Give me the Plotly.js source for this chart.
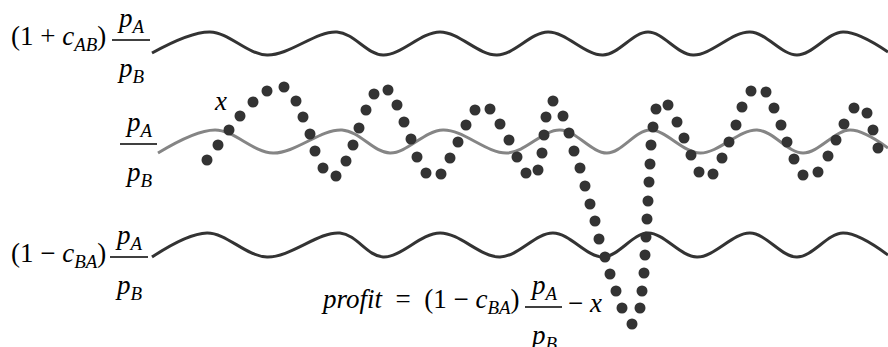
<!DOCTYPE html>
<html>
<head>
<meta charset="utf-8">
<script src="https://cdn.plot.ly/plotly-3.0.1.min.js"></script>
<style>
  html, body { margin: 0; padding: 0; background: #fff; }
  #chart { width: 888px; height: 347px; }
</style>
</head>
<body>
<div id="chart"></div>
<script>
// upper bound (1 + c_AB) pA/pB
var upperX = [152, 210, 267, 337, 383, 440, 497, 548, 603, 648, 693, 750, 797, 843, 888];
var upperY = [53, 32, 55, 32, 55, 32, 55, 32, 55, 32, 55, 32, 55, 32, 52];

// price ratio pA/pB
var ratioX = [158, 215, 273, 342, 390, 443, 507, 560, 607, 650, 700, 757, 803, 850, 888];
var ratioY = [153, 130, 153, 130, 153, 130, 153, 130, 153, 130, 153, 130, 153, 130, 148];

// lower bound (1 - c_BA) pA/pB
var lowerX = [152, 207, 267, 340, 383, 440, 500, 553, 603, 648, 697, 750, 797, 843, 888];
var lowerY = [257, 233, 257, 233, 257, 233, 257, 233, 257, 233, 257, 233, 257, 233, 255];

// observed x
var obsX = [207, 218, 229, 240, 253, 267, 284, 296, 303, 310, 315, 323, 336, 346, 353,
  359, 366, 374, 388, 397, 404, 411, 417, 426, 441, 450, 458, 466, 475, 490,
  500, 509, 517, 526, 538, 542, 544, 546, 553, 563, 569, 574, 580, 585, 590,
  595, 599, 605, 610, 616, 622, 632, 640, 642, 644, 645, 646, 647, 648, 649,
  650, 651, 653, 656, 668, 677, 684, 691, 699, 713, 722, 729, 736, 742, 751,
  766, 774, 781, 787, 794, 803, 818, 828, 836, 844, 854, 867, 873, 878];
var obsY = [160, 145, 130, 116, 102, 91, 87, 101, 117, 134, 151, 168, 176, 161, 145,
  128, 110, 94, 90, 105, 122, 139, 157, 173, 174, 158, 142, 125, 110, 109,
  124, 140, 157, 173, 170, 153, 135, 117, 101, 116, 133, 151, 168, 186, 204,
  221, 239, 257, 274, 291, 308, 324, 308, 291, 273, 255, 237, 219, 201, 182,
  164, 145, 127, 109, 105, 122, 138, 155, 172, 174, 158, 142, 125, 107, 91,
  92, 108, 125, 142, 159, 175, 172, 156, 140, 124, 108, 113, 130, 148];

var numText = "<i>p</i><sub><i>A</i></sub>";
var denText = "<i>p</i><sub><i>B</i></sub>";
var upperText = "(1\u2005+\u2005<i>c</i><sub><i>AB</i></sub>)";
var lowerText = "(1\u2005\u2212\u2005<i>c</i><sub><i>BA</i></sub>)";
var profitText = "<i>profit</i>\u2002=\u2002(1\u2005\u2212\u2005<i>c</i><sub><i>BA</i></sub>)";

var dark = "#333333";
var grey = "#858585";
var serif = "'Liberation Serif', 'Times New Roman', Times, serif";

var traces = [
  { x: upperX, y: upperY, mode: "lines", line: { color: dark, width: 3, shape: "spline" } },
  { x: ratioX, y: ratioY, mode: "lines", line: { color: grey, width: 3, shape: "spline" } },
  { x: lowerX, y: lowerY, mode: "lines", line: { color: dark, width: 3, shape: "spline" } },
  { x: obsX, y: obsY, mode: "markers", marker: { color: dark, size: 11 } }
];

var annotations = [];
var shapes = [];

function txt(t, x, y, xa, ya) {
  annotations.push({
    text: t, x: x, y: y, xref: "x", yref: "y", xanchor: xa, yanchor: ya,
    showarrow: false, font: { family: serif, size: 27, color: "#000" }
  });
}

function frac(x0, x1, y) {
  shapes.push({ type: "line", xref: "x", yref: "y", x0: x0, x1: x1, y0: y, y1: y,
    line: { color: "#000", width: 1.5 } });
  txt(numText, (x0 + x1) / 2, y - 1, "center", "bottom");
  txt(denText, (x0 + x1) / 2, y + 11, "center", "top");
}

// labels
txt(upperText, 108, 38, "right", "middle");
frac(112, 150, 40);

frac(120, 157, 144);
txt("<i>x</i>", 220, 101, "center", "middle");

txt(lowerText, 108, 255, "right", "middle");
frac(110, 148, 257);

txt(profitText, 522, 301, "right", "middle");
frac(525, 562, 307);
txt("\u2212\u2005<i>x</i>", 566, 303, "left", "middle");

var layout = {
  width: 888,
  height: 347,
  margin: { l: 0, r: 0, t: 0, b: 0 },
  paper_bgcolor: "#fff",
  plot_bgcolor: "#fff",
  showlegend: false,
  xaxis: { range: [0, 888], visible: false, fixedrange: true },
  yaxis: { range: [347, 0], visible: false, fixedrange: true },
  annotations: annotations,
  shapes: shapes
};

Plotly.newPlot("chart", traces, layout, { staticPlot: true, displayModeBar: false });
</script>
</body>
</html>
